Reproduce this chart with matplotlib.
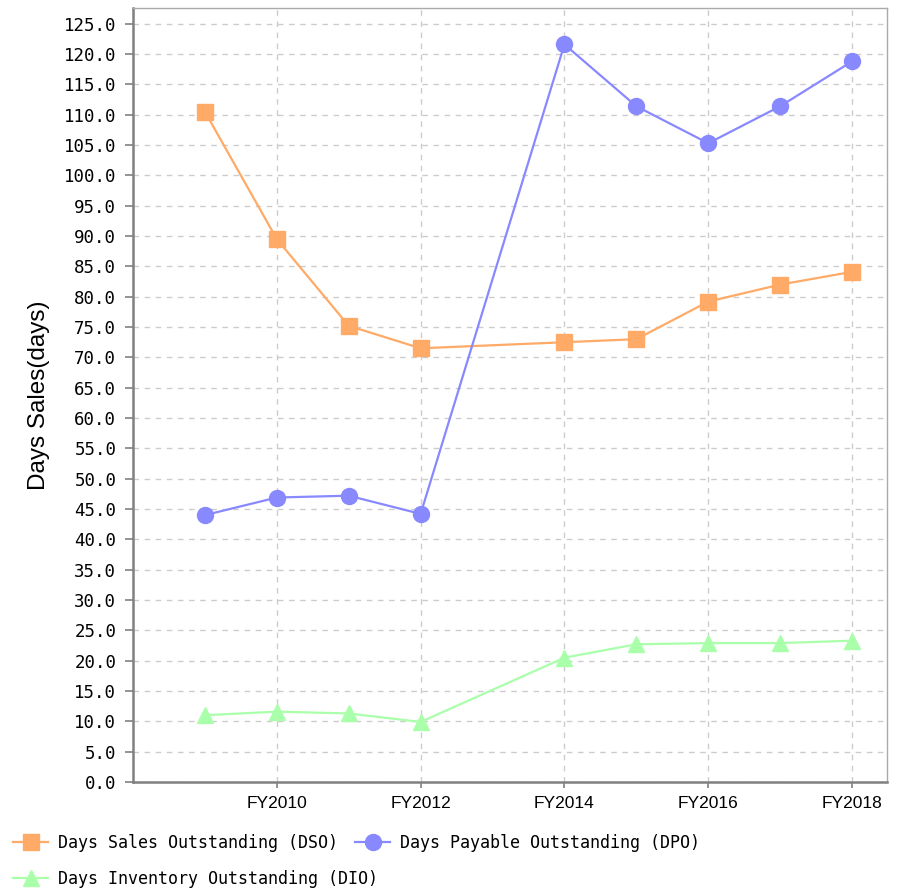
import matplotlib.pyplot as plt
from matplotlib.ticker import MultipleLocator, FormatStrFormatter

years = [2009, 2010, 2011, 2012, 2014, 2015, 2016, 2017, 2018]
dso = [110.5, 89.5, 75.2, 71.5, 72.5, 73.0, 79.2, 82.0, 84.1]
dpo = [44.0, 46.9, 47.2, 44.2, 121.6, 111.4, 105.3, 111.4, 118.8]
dio = [11.0, 11.6, 11.3, 9.9, 20.5, 22.7, 22.9, 22.9, 23.3]
tick_years = [2010, 2012, 2014, 2016, 2018]
tick_labels = ['FY2010', 'FY2012', 'FY2014', 'FY2016', 'FY2018']
names = ['Days Sales Outstanding (DSO)', 'Days Payable Outstanding (DPO)',
         'Days Inventory Outstanding (DIO)']

fig = plt.figure(figsize=(8.99, 8.90), dpi=100)
ax = fig.add_axes([133/899, 1 - 782/890, (887-133)/899, (782-8)/890])

h1, = ax.plot(years, dso, '-s', color='#ffaa66', lw=1.6, ms=11.5, mec='#ffaa66')
h2, = ax.plot(years, dpo, '-o', color='#8888ff', lw=1.6, ms=11.5, mec='#8888ff')
h3, = ax.plot(years, dio, '-^', color='#aaffaa', lw=1.6, ms=11.5, mec='#aaffaa')

ax.set_xlim(2008.0, 2018.486)
ax.set_ylim(0, 127.6)
ax.set_xticks(tick_years)
ax.set_xticklabels(tick_labels, fontsize=12.5, family='Liberation Sans')
ax.yaxis.set_major_locator(MultipleLocator(5))
ax.yaxis.set_major_formatter(FormatStrFormatter('%.1f'))
for t in ax.get_yticklabels():
    t.set_family('DejaVu Sans Mono')
    t.set_fontsize(12.5)

ax.grid(True, ls=(0, (4, 4)), color='#cccccc', lw=1)
ax.set_axisbelow(True)
for s in ['left', 'bottom']:
    ax.spines[s].set_color('#808080')
    ax.spines[s].set_linewidth(1.8)
for s in ['top', 'right']:
    ax.spines[s].set_color('#aaaaaa')
    ax.spines[s].set_linewidth(1)
ax.tick_params(axis='y', length=6, color='#808080', width=1.2, pad=6)
ax.tick_params(axis='x', length=4, color='#808080', width=1.2, pad=6)

ax.set_ylabel('Days Sales(days)', fontsize=17.5, family='Liberation Sans', labelpad=10)

# two legend rows, placed separately so the second entry follows the first
lkw = dict(loc='center left', frameon=False, borderpad=0,
           prop={'family': 'DejaVu Sans Mono', 'size': 12},
           handlelength=2.1, handletextpad=0.6, columnspacing=1.0)
fig.legend([h1, h2], [names[0], names[1]], ncol=2,
           bbox_to_anchor=(5/899, 1 - 843/890), **lkw)
fig.legend([h3], [names[2]],
           bbox_to_anchor=(5/899, 1 - 879/890), **lkw)

fig.savefig('out.png', dpi=100)
